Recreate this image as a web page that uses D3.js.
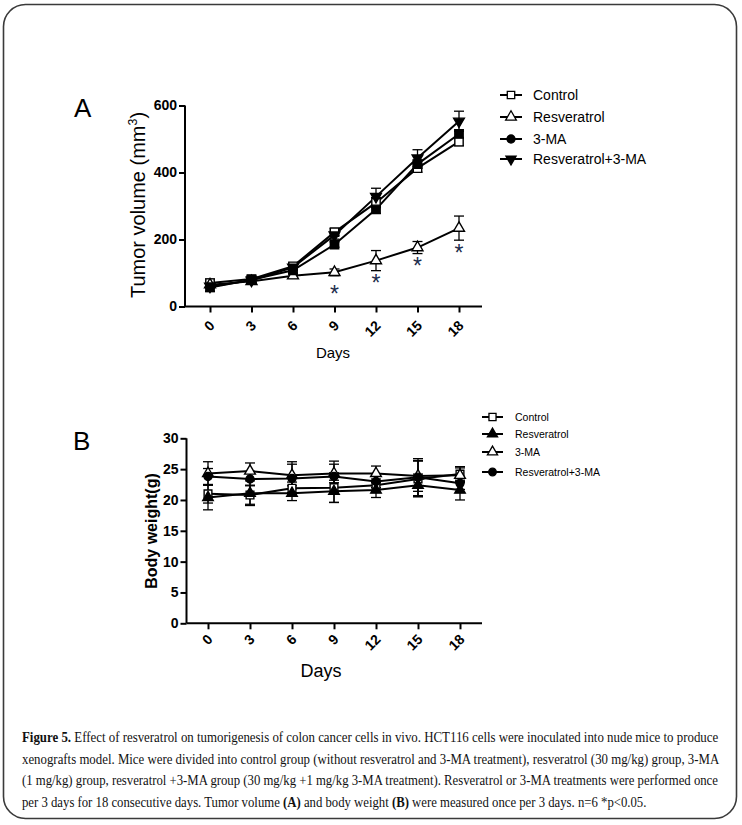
<!DOCTYPE html>
<html><head><meta charset="utf-8">
<script src="https://cdn.jsdelivr.net/npm/d3@7"></script>
<style>html,body{margin:0;padding:0;background:#fff;} svg{display:block;}</style>
</head><body>
<svg id="c" width="742" height="825"></svg>
<script>
// ---------- data ----------
const days = [0, 3, 6, 9, 12, 15, 18];
const dayLabels = ["0", "3", "6", "9", "12", "15", "18"];

// Panel A: tumor volume (mm3)
const seriesNamesA = ["Control", "Resveratrol", "3-MA", "Resveratrol+3-MA"];
const controlA = [70, 82, 120, 222, 310, 413, 492];
const resvA    = [65, 75, 92, 102, 137, 176, 234];
const maA      = [57, 80, 108, 185, 290, 425, 515];
const comboA   = [60, 78, 117, 213, 328, 443, 553];
const controlAErr = [12, 8, 10, 10, 15, 12, 12];
const resvAErr    = [10, 8, 8, 10, 30, 18, 36];
const maAErr      = [12, 8, 10, 8, 12, 12, 12];
const comboAErr   = [15, 8, 10, 12, 25, 25, 30];
const yTicksA = [0, 200, 400, 600];
const starDays = [9, 12, 15, 18];
const starValues = [52, 85, 135, 175];

// Panel B: body weight (g)
const seriesNamesB = ["Control", "Resveratrol", "3-MA", "Resveratrol+3-MA"];
const controlB = [21.0, 20.8, 21.9, 22.0, 22.4, 23.4, 24.2];
const resvB    = [20.4, 21.1, 21.1, 21.4, 21.6, 22.4, 21.6];
const maB      = [24.3, 24.7, 24.0, 24.3, 24.3, 23.9, 24.0];
const comboB   = [23.8, 23.4, 23.5, 23.8, 23.0, 23.7, 22.7];
const controlBErr = [1.5, 1.5, 1.0, 2.4, 1.0, 2.9, 1.2];
const resvBErr    = [2.0, 2.0, 1.2, 1.8, 1.2, 1.8, 1.6];
const maBErr      = [1.9, 1.3, 2.2, 1.5, 1.2, 2.5, 1.2];
const comboBErr   = [1.3, 1.0, 2.3, 2.5, 1.0, 3.0, 1.0];
const yTicksB = [0, 5, 10, 15, 20, 25, 30];

const captionLines = [
  [["b","Figure 5."],["n"," Effect of resveratrol on tumorigenesis of colon cancer cells in vivo. HCT116 cells were inoculated into nude mice to produce"]],
  [["n","xenografts model. Mice were divided into control group (without resveratrol and 3-MA treatment), resveratrol (30 mg/kg) group, 3-MA"]],
  [["n","(1 mg/kg) group, resveratrol +3-MA group (30 mg/kg +1 mg/kg 3-MA treatment). Resveratrol or 3-MA treatments were performed once"]],
  [["n","per 3 days for 18 consecutive days. Tumor volume "],["b","(A)"],["n"," and body weight "],["b","(B)"],["n"," were measured once per 3 days. n=6 *p<0.05."]]
];

// ---------- drawing ----------
const svg = d3.select("#c");
const FONT = "Arial, 'Liberation Sans', sans-serif";

svg.append("rect").attr("x", 3.5).attr("y", 4.5).attr("width", 733).attr("height", 814)
  .attr("rx", 22).attr("fill", "none").attr("stroke", "#3a3a3a").attr("stroke-width", 1.6);

function markerPath(kind, size) {
  const map = {square: d3.symbolSquare, triangle: d3.symbolTriangle, down: d3.symbolTriangle, circle: d3.symbolCircle};
  return d3.symbol().type(map[kind]).size(size)();
}

function drawPanel(p) {
  const g = svg.append("g");
  const x = d3.scaleLinear().domain([0, 18]).range([p.x0, p.x1]);
  const y = d3.scaleLinear().domain([0, p.ymax]).range([p.yb, p.yt]);

  // axes
  const yAxis = d3.axisLeft(y).tickValues(p.yTicks).tickSize(6).tickPadding(2).tickFormat(d3.format("d"));
  const ya = g.append("g").attr("transform", `translate(${p.axX},0)`).call(yAxis);
  ya.select(".domain").attr("d", `M0,${p.yt}V${p.yb}`);
  const xAxis = d3.axisBottom(x).tickValues(days).tickSize(6).tickFormat((d, i) => dayLabels[i]);
  const xa = g.append("g").attr("transform", `translate(0,${p.yb})`).call(xAxis);
  xa.select(".domain").attr("d", `M${p.axX},0H${p.axEnd}`);
  [ya, xa].forEach(a => {
    a.selectAll(".domain, .tick line").attr("stroke", "#000").attr("stroke-width", 2);
    a.selectAll("text").attr("font-family", FONT).attr("font-weight", "bold").attr("font-size", p.tickFs).attr("fill", "#000");
  });
  xa.selectAll("text").attr("text-anchor", "end").attr("dy", null).attr("y", 0)
    .attr("transform", `translate(5,${p.xlabOff}) rotate(-45)`);

  // series
  p.series.forEach(s => {
    const pts = days.map((d, i) => ({d, v: s.vals[i], e: s.err[i]}));
    const line = d3.line().x(q => x(q.d)).y(q => y(q.v));
    g.append("path").attr("d", line(pts)).attr("fill", "none").attr("stroke", "#000").attr("stroke-width", 2);
    const eb = g.append("g");
    pts.forEach(q => {
      const cx = x(q.d), top = y(q.v + q.e), bot = y(q.v - q.e);
      eb.append("line").attr("x1", cx).attr("x2", cx).attr("y1", top).attr("y2", bot).attr("stroke", "#000").attr("stroke-width", 1.3);
      [top, bot].forEach(yy => eb.append("line").attr("x1", cx - 5).attr("x2", cx + 5).attr("y1", yy).attr("y2", yy).attr("stroke", "#000").attr("stroke-width", 1.3));
    });
  });
  p.series.forEach(s => {
    days.forEach((d, i) => {
      g.append("path").attr("d", markerPath(s.mark, s.size))
        .attr("transform", `translate(${x(d)},${y(s.vals[i])})` + (s.mark === "down" ? " rotate(180)" : ""))
        .attr("fill", s.open ? "#fff" : "#000").attr("stroke", "#000").attr("stroke-width", 1.4);
    });
  });

  // titles
  g.append("text").attr("x", p.letterX).attr("y", p.letterY).text(p.letter)
    .attr("font-family", FONT).attr("font-size", 26).attr("fill", "#000");
  const yt = g.append("text").attr("transform", `translate(${p.ytX},${p.ytY}) rotate(-90)`)
    .attr("text-anchor", "middle").attr("font-family", FONT).attr("font-size", p.ytFs)
    .attr("font-weight", p.ytBold ? "bold" : "normal").attr("fill", "#000");
  p.ytParts.forEach(pt => {
    const ts = yt.append("tspan").text(pt[0]);
    if (pt[1] === "sup") ts.attr("font-size", p.ytFs * 0.62).attr("dy", -p.ytFs * 0.42);
    if (pt[1] === "after") ts.attr("dy", p.ytFs * 0.42);
  });
  g.append("text").attr("x", p.xtX).attr("y", p.xtY).attr("text-anchor", "middle")
    .attr("font-family", FONT).attr("font-size", p.xtFs).attr("fill", "#000").text("Days");

  // legend
  const lg = g.append("g");
  p.legend.forEach((s, i) => {
    const ly = p.legY[i];
    lg.append("line").attr("x1", p.legX0).attr("x2", p.legX1).attr("y1", ly).attr("y2", ly).attr("stroke", "#000").attr("stroke-width", 2);
    lg.append("path").attr("d", markerPath(s.mark, s.size))
      .attr("transform", `translate(${(p.legX0 + p.legX1) / 2},${ly})` + (s.mark === "down" ? " rotate(180)" : ""))
      .attr("fill", s.open ? "#fff" : "#000").attr("stroke", "#000").attr("stroke-width", 1.3);
    lg.append("text").attr("x", p.legTX).attr("y", ly).attr("dy", "0.35em").text(s.name)
      .attr("font-family", FONT).attr("font-size", p.legFs).attr("fill", "#000");
  });
  return {g, x, y};
}

const A = drawPanel({
  x0: 210, x1: 459, yb: 306.5, yt: 105.5, ymax: 600, axX: 185, axEnd: 482,
  yTicks: yTicksA, tickFs: 14, xlabOff: 20,
  series: [
    {vals: controlA, err: controlAErr, mark: "square", open: true, size: 70},
    {vals: resvA, err: resvAErr, mark: "triangle", open: true, size: 52},
    {vals: maA, err: maAErr, mark: "square", open: false, size: 70},
    {vals: comboA, err: comboAErr, mark: "down", open: false, size: 50}
  ],
  letter: "A", letterX: 74, letterY: 117,
  ytX: 145, ytY: 205, ytFs: 20, ytBold: false, ytParts: [["Tumor volume (mm"], ["3", "sup"], [")", "after"]],
  xtX: 333, xtY: 358, xtFs: 15,
  legend: [
    {name: seriesNamesA[0], mark: "square", open: true, size: 55},
    {name: seriesNamesA[1], mark: "triangle", open: true, size: 50},
    {name: seriesNamesA[2], mark: "circle", open: false, size: 50},
    {name: seriesNamesA[3], mark: "down", open: false, size: 45}
  ],
  legY: [95, 117, 139, 159], legX0: 500, legX1: 522, legTX: 533, legFs: 14
});

const starFs = 23;
A.g.selectAll(".star").data(starDays).enter().append("text").attr("class", "star")
  .attr("x", (d) => A.x(d)).attr("y", (d, i) => A.y(starValues[i]) + 0.57 * starFs)
  .attr("text-anchor", "middle").attr("font-family", FONT).attr("font-size", starFs)
  .attr("fill", "#1d2d4d").text("*");

drawPanel({
  x0: 208, x1: 460, yb: 623.3, yt: 438.3, ymax: 30, axX: 186.5, axEnd: 482,
  yTicks: yTicksB, tickFs: 14, xlabOff: 17,
  series: [
    {vals: controlB, err: controlBErr, mark: "square", open: true, size: 60},
    {vals: resvB, err: resvBErr, mark: "triangle", open: false, size: 48},
    {vals: maB, err: maBErr, mark: "triangle", open: true, size: 50},
    {vals: comboB, err: comboBErr, mark: "circle", open: false, size: 50}
  ],
  letter: "B", letterX: 73, letterY: 450,
  ytX: 157, ytY: 531, ytFs: 16, ytBold: true, ytParts: [["Body weight(g)"]],
  xtX: 321, xtY: 677, xtFs: 18,
  legend: [
    {name: seriesNamesB[0], mark: "square", open: true, size: 50},
    {name: seriesNamesB[1], mark: "triangle", open: false, size: 45},
    {name: seriesNamesB[2], mark: "triangle", open: true, size: 45},
    {name: seriesNamesB[3], mark: "circle", open: false, size: 45}
  ],
  legY: [417, 434, 452, 472], legX0: 482, legX1: 503, legTX: 515, legFs: 10.5
});

// caption: keep glyph height, compress horizontally to the reference line widths
const capY = [742, 763.5, 785, 806.5];
const capW = [697, 698, 697, 625];
const cap = svg.append("g");
captionLines.forEach((ln, i) => {
  const t = cap.append("text").attr("x", 0).attr("y", 0)
    .attr("font-family", "'Liberation Serif', 'Times New Roman', serif").attr("font-size", 14).attr("fill", "#111");
  ln.forEach(part => {
    t.append("tspan").text(part[1]).attr("font-weight", part[0] === "b" ? "bold" : "normal");
  });
  const nat = t.node().getComputedTextLength();
  const k = capW[i] / nat;
  t.attr("transform", `translate(22,${capY[i]}) scale(${k},1)`);
});
</script>
</body></html>
